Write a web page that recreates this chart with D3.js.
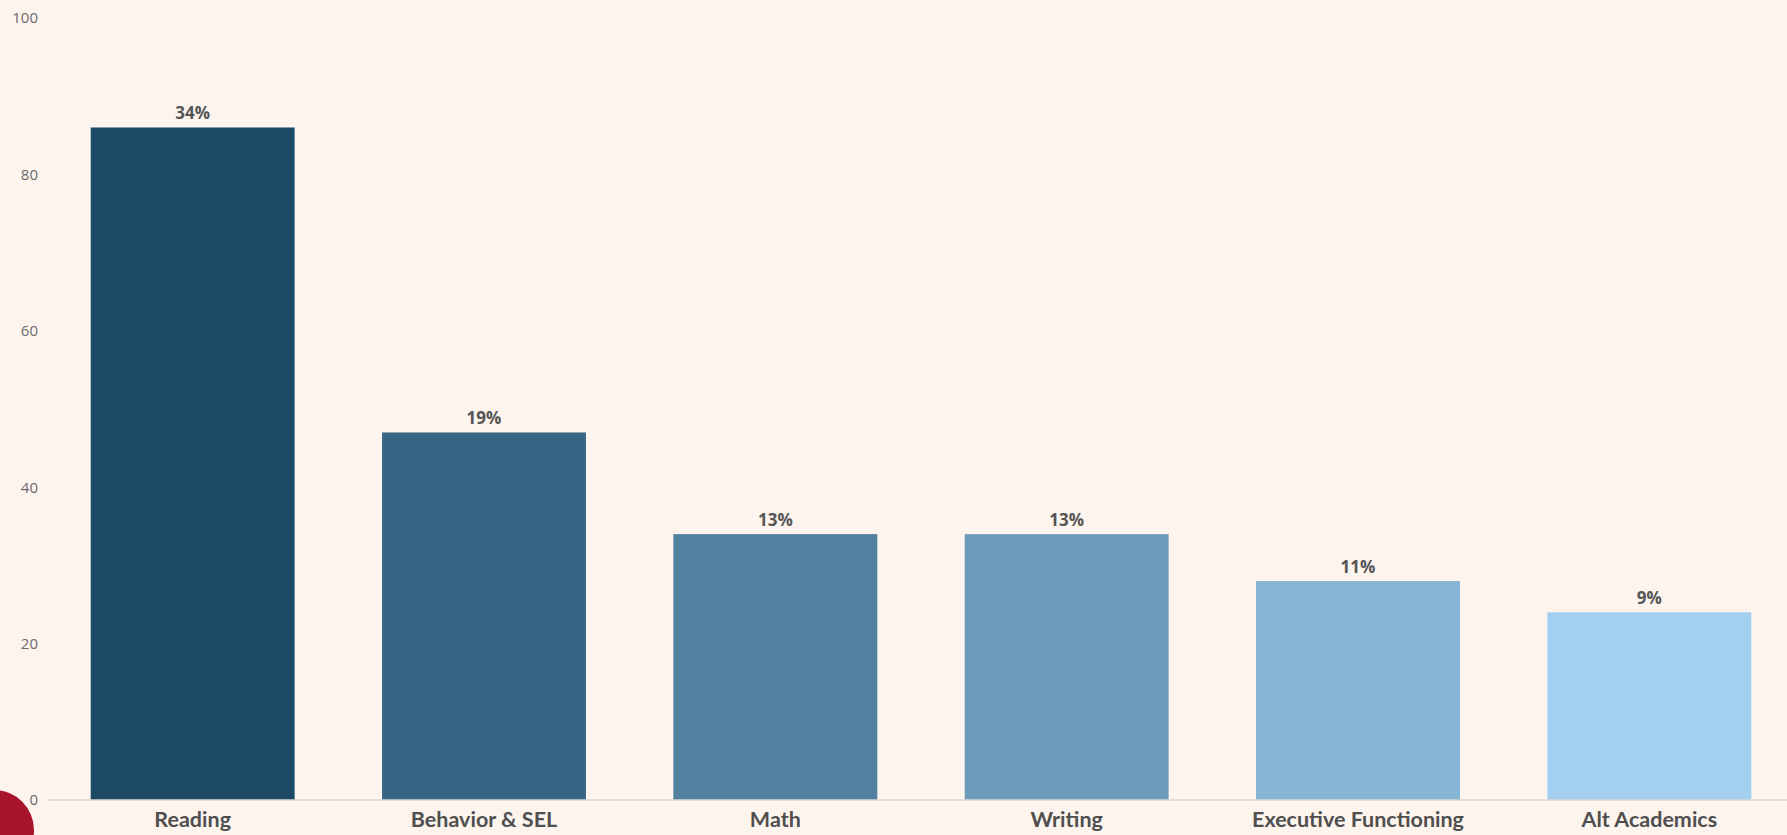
<!DOCTYPE html>
<html>
<head>
<meta charset="utf-8">
<script src="https://cdn.jsdelivr.net/npm/d3@7"></script>
<style>
  html, body { margin: 0; padding: 0; background: #fdf4ee; overflow: hidden; }
  svg { display: block; }
  .ytick text { font-family: "Open Sans", sans-serif; font-size: 15px; fill: #6b6b6b; }
  .xtick text { font-family: Lato, sans-serif; font-weight: bold; font-size: 21.5px; fill: #4f4f4f; }
  .val { font-family: "Open Sans", sans-serif; font-weight: bold; font-size: 17px; fill: #555; }
</style>
</head>
<body>
<svg id="chart" width="1787" height="835"></svg>
<script>
// data
let categories = ['Reading', 'Behavior & SEL', 'Math', 'Writing', 'Executive Functioning', 'Alt Academics'];
let counts = [86, 47, 34, 34, 28, 24];
let pctLabels = ['34%', '19%', '13%', '13%', '11%', '9%'];
let barColors = ['#1c4966', '#366684', '#51819f', '#6c9cba', '#85b4d5', '#a3cff0'];
let yTicks = [0, 20, 40, 60, 80, 100];

let svg = d3.select('#chart');

let x = d3.scaleBand()
  .domain(categories)
  .range([47, 1795])
  .paddingInner(0.3)
  .paddingOuter(0.15);

let y = d3.scaleLinear()
  .domain([0, 100])
  .range([800, 18]);

let data = categories.map((c, i) => ({ cat: c, v: counts[i], label: pctLabels[i], color: barColors[i] }));

// bars
svg.append('g').selectAll('rect')
  .data(data)
  .join('rect')
  .attr('x', d => x(d.cat))
  .attr('y', d => y(d.v))
  .attr('width', x.bandwidth())
  .attr('height', d => y(0) - y(d.v))
  .attr('fill', d => d.color);

// value labels
svg.append('g').selectAll('text')
  .data(data)
  .join('text')
  .attr('class', 'val')
  .attr('x', d => x(d.cat) + x.bandwidth() / 2)
  .attr('y', d => y(d.v) - 8)
  .attr('text-anchor', 'middle')
  .text(d => d.label);

// baseline
svg.append('line')
  .attr('x1', x.range()[0])
  .attr('x2', 1787)
  .attr('y1', y(0))
  .attr('y2', y(0))
  .attr('stroke', '#dcd6d2')
  .attr('stroke-width', 1.5);

// y axis labels
let yAxis = d3.axisLeft(y).tickValues(yTicks).tickSize(0).tickPadding(0);
svg.append('g').attr('class', 'ytick')
  .attr('transform', 'translate(38,0)')
  .call(yAxis)
  .call(g => g.select('.domain').remove());

// category labels
let xAxis = d3.axisBottom(x).tickSize(0).tickPadding(12);
svg.append('g').attr('class', 'xtick')
  .attr('transform', `translate(0,${y(0)})`)
  .call(xAxis)
  .call(g => g.select('.domain').remove());

// red badge in the corner
svg.append('circle')
  .attr('cx', -6)
  .attr('cy', 830)
  .attr('r', 40)
  .attr('fill', '#a8142a');
</script>
</body>
</html>
